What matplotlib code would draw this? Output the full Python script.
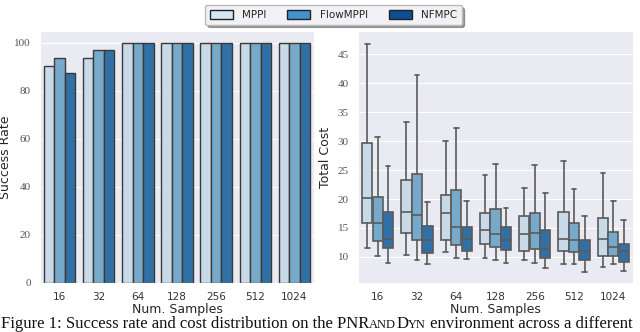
import matplotlib
matplotlib.use("Agg")
import matplotlib.pyplot as plt
import seaborn as sns
from matplotlib.patches import Patch

sns.set_style("darkgrid")
plt.rcParams['font.family'] = ['DejaVu Sans']

samples = ["16", "32", "64", "128", "256", "512", "1024"]
methods = ["MPPI", "FlowMPPI", "NFMPC"]

success = {
    "MPPI":     [90.6, 93.75, 100, 100, 100, 100, 100],
    "FlowMPPI": [93.75, 96.9, 100, 100, 100, 100, 100],
    "NFMPC":    [87.5, 96.9, 100, 100, 100, 100, 100],
}

# cost boxes: (whisker low, q1, median, q3, whisker high)
cost_mppi = [(11.5, 15.8, 20.2, 29.7, 46.8), (10.4, 14.1, 17.7, 23.3, 33.3),
             (10.8, 13.0, 17.6, 20.7, 30.0), (9.9, 12.2, 14.7, 17.5, 24.2),
             (9.4, 11.0, 13.9, 17.0, 21.9), (8.8, 11.1, 13.1, 17.8, 26.6),
             (8.2, 10.2, 13.1, 16.7, 24.5)]
cost_flow = [(10.1, 12.7, 15.8, 20.4, 30.7), (9.4, 12.9, 17.3, 24.3, 41.4),
             (9.8, 12.0, 15.1, 21.5, 32.2), (9.4, 11.8, 14.0, 18.2, 26.1),
             (9.0, 11.4, 14.2, 17.5, 25.9), (8.8, 10.9, 13.0, 15.9, 21.8),
             (8.8, 10.2, 11.8, 14.3, 19.6)]
cost_nf = [(9.0, 11.5, 13.1, 17.7, 25.7), (8.7, 10.7, 12.9, 15.4, 19.5),
           (9.6, 11.0, 13.1, 15.2, 19.7), (9.0, 11.2, 12.9, 15.1, 18.5),
           (8.1, 9.8, 11.3, 14.7, 21.1), (7.4, 9.5, 11.1, 12.9, 17.1),
           (7.6, 9.1, 11.1, 12.2, 16.4)]
cost = {"MPPI": cost_mppi, "FlowMPPI": cost_flow, "NFMPC": cost_nf}

bar_colors = ["#c8d9e8", "#77a9ca", "#3170a4"]
legend_colors = ["#d6e6f4", "#4292d0", "#0b4f98"]

fig = plt.figure(figsize=(6.4, 3.32), dpi=100)
ax1 = fig.add_axes([40/640, 1 - 283/332, 274/640, 252/332])
ax2 = fig.add_axes([358/640, 1 - 283/332, 275/640, 252/332])

w = 0.8 / 3
offsets = [-w, 0, w]
xs = list(range(len(samples)))

for m, col, off in zip(methods, bar_colors, offsets):
    ax1.bar([x + off for x in xs], success[m], width=w, color=col,
            edgecolor="#3a3a3a", linewidth=1.0, zorder=2)
ax1.set_ylim(0, 105)
ax1.set_xlim(-0.5, 6.5)
ax1.set_yticks([0, 20, 40, 60, 80, 100])
ax1.set_ylabel("Success Rate", fontsize=9)

for m, col, off in zip(methods, bar_colors, offsets):
    stats = []
    for (lo, q1, med, q3, hi) in cost[m]:
        stats.append(dict(whislo=lo, q1=q1, med=med, q3=q3, whishi=hi, fliers=[]))
    ax2.bxp(stats, positions=[x + off for x in xs], widths=w * 0.98,
            patch_artist=True, showfliers=False, manage_ticks=False,
            boxprops=dict(facecolor=col, edgecolor="#5a5a5a", linewidth=1.2),
            medianprops=dict(color="#5a5a5a", linewidth=1.2),
            whiskerprops=dict(color="#5a5a5a", linewidth=1.2),
            capprops=dict(color="#5a5a5a", linewidth=1.2), capwidths=w * 0.45)
ax2.set_ylim(5.5, 49)
ax2.set_xlim(-0.5, 6.5)
ax2.set_yticks([10, 15, 20, 25, 30, 35, 40, 45])
ax2.set_ylabel("Total Cost", fontsize=9)

for ax in (ax1, ax2):
    ax.set_xticks(xs)
    ax.set_xticklabels(samples, fontsize=7.5, color="#333333")
    ax.set_xlabel("Num. Samples", fontsize=9, labelpad=1)
    ax.tick_params(axis='y', labelsize=8, labelcolor="#555555", pad=3)
    ax.tick_params(axis='x', pad=3)
    for lab in ax.get_yticklabels():
        lab.set_family("Liberation Serif")
    ax.grid(axis='x', visible=False)
    ax.set_axisbelow(True)

# place y labels in figure pixel positions like the reference
ax1.yaxis.set_label_coords(-(40 - 12) / 274, 0.5)
ax2.yaxis.set_label_coords(-(358 - 332) / 275, 0.5)

handles = [Patch(facecolor=c, edgecolor="#222222", linewidth=1.0, label=m)
           for c, m in zip(legend_colors, methods)]
leg = fig.legend(handles=handles, loc="upper center", bbox_to_anchor=(0.521, 1.0),
                 ncol=3, fontsize=7.5, frameon=True, fancybox=True, shadow=True,
                 handlelength=2.2, handleheight=0.9, columnspacing=2.0,
                 borderpad=0.45, handletextpad=0.9)
leg.get_frame().set_facecolor("#f2f2f6")
leg.get_frame().set_edgecolor("#bbbbbb")

# caption with small-caps environment name
fig.canvas.draw()
renderer = fig.canvas.get_renderer()
pieces = [("Figure 1: Success rate and cost distribution on the PNR", 12),
          ("AND", 9), ("D", 12), ("YN", 9),
          (" environment across a different", 12)]
x = 1
y = 4.5
for txt, sz in pieces:
    t = fig.text(x / 640, y / 332, txt, fontsize=sz, family="Liberation Serif",
                 ha="left", va="baseline", color="#111111")
    bb = t.get_window_extent(renderer=renderer)
    x = bb.x1

fig.savefig("out.png", dpi=100)
